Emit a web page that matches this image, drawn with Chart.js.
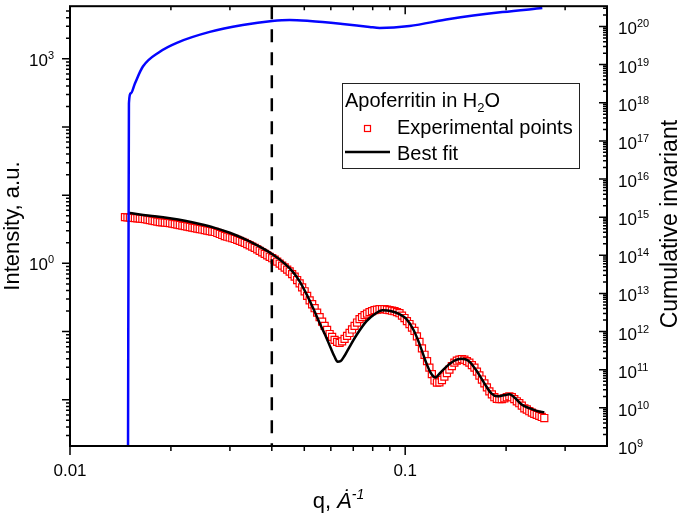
<!DOCTYPE html>
<html lang="en">
<head>
    <meta charset="UTF-8">
    <title>Apoferritin in H2O - SAXS curve</title>
    <script src="https://cdn.jsdelivr.net/npm/chart.js"></script>
    <style>
        * {
            margin: 0;
            padding: 0;
            box-sizing: border-box;
        }

        body {
            background: #ffffff;
            width: 685px;
            height: 522px;
            overflow: hidden;
        }

        canvas {
            display: block;
        }
    </style>
</head>

<body>
    <canvas id="chart" width="685" height="522"></canvas>

    <script>
        // experimental points (q in 1/A, intensity in a.u.)
        const qExp = [0.01459, 0.01484, 0.01509, 0.01535, 0.01562, 0.01589, 0.01616, 0.01644, 0.01673, 0.01702,
            0.01731, 0.01761, 0.01791, 0.01822, 0.01854, 0.01886, 0.01919, 0.01952, 0.01986, 0.02020,
            0.02055, 0.02091, 0.02127, 0.02164, 0.02201, 0.02239, 0.02278, 0.02317, 0.02357, 0.02398,
            0.02439, 0.02481, 0.02524, 0.02568, 0.02612, 0.02657, 0.02704, 0.02751, 0.02798, 0.02846,
            0.02896, 0.02946, 0.02997, 0.03049, 0.03101, 0.03155, 0.03209, 0.03265, 0.03321, 0.03378,
            0.03437, 0.03496, 0.03557, 0.03619, 0.03681, 0.03745, 0.03810, 0.03876, 0.03943, 0.04011,
            0.04080, 0.04151, 0.04222, 0.04295, 0.04370, 0.04446, 0.04522, 0.04600, 0.04680, 0.04761,
            0.04843, 0.04927, 0.05012, 0.05099, 0.05187, 0.05277, 0.05368, 0.05461, 0.05555, 0.05651,
            0.05749, 0.05848, 0.05950, 0.06053, 0.06157, 0.06264, 0.06372, 0.06482, 0.06594, 0.06708,
            0.06824, 0.06942, 0.07063, 0.07185, 0.07309, 0.07435, 0.07564, 0.07695, 0.07828, 0.07963,
            0.08101, 0.08241, 0.08384, 0.08529, 0.08676, 0.08826, 0.08979, 0.09134, 0.09292, 0.09453,
            0.09616, 0.09782, 0.09952, 0.1012, 0.1030, 0.1048, 0.1066, 0.1084, 0.1103, 0.1122,
            0.1142, 0.1162, 0.1181, 0.1201, 0.1223, 0.1244, 0.1265, 0.1287, 0.1309, 0.1332,
            0.1355, 0.1378, 0.1402, 0.1426, 0.1451, 0.1476, 0.1502, 0.1528, 0.1554, 0.1581,
            0.1609, 0.1637, 0.1665, 0.1694, 0.1723, 0.1753, 0.1783, 0.1814, 0.1845, 0.1877,
            0.1909, 0.1942, 0.1976, 0.2010, 0.2045, 0.2080, 0.2116, 0.2153, 0.2190, 0.2228,
            0.2267, 0.2306, 0.2346, 0.2387, 0.2427, 0.2469, 0.2512, 0.2555, 0.2600];
        const intensityExp = [4.76, 4.73, 4.68, 4.65, 4.61, 4.58, 4.53, 4.50, 4.46, 4.38,
            4.31, 4.24, 4.17, 4.10, 4.03, 4.00, 3.96, 3.92, 3.90, 3.83,
            3.77, 3.71, 3.65, 3.58, 3.53, 3.47, 3.41, 3.35, 3.30, 3.24,
            3.19, 3.14, 3.08, 3.03, 2.98, 2.93, 2.89, 2.79, 2.70, 2.61,
            2.52, 2.46, 2.40, 2.34, 2.28, 2.21, 2.14, 2.07, 2.00, 1.92,
            1.84, 1.76, 1.69, 1.61, 1.53, 1.45, 1.38, 1.315, 1.25, 1.19,
            1.13, 1.06, 0.99, 0.926, 0.87, 0.810, 0.76, 0.697, 0.64, 0.570,
            0.51, 0.444, 0.39, 0.334, 0.287, 0.2515, 0.220, 0.1893, 0.163, 0.1401,
            0.121, 0.1055, 0.092, 0.0835, 0.0755, 0.0706, 0.0683, 0.0718, 0.0781, 0.0863,
            0.0954, 0.1073, 0.121, 0.1356, 0.152, 0.1628, 0.174, 0.1831, 0.193, 0.1991,
            0.206, 0.2093, 0.213, 0.2128, 0.213, 0.2093, 0.206, 0.2024, 0.199, 0.1925,
            0.186, 0.1713, 0.158, 0.1425, 0.129, 0.1147, 0.102, 0.0849, 0.0706, 0.0568,
            0.0457, 0.0368, 0.0296, 0.0238, 0.0192, 0.0179, 0.0180, 0.0195, 0.0219, 0.0247,
            0.0277, 0.0311, 0.0350, 0.0374, 0.0387, 0.0394, 0.0387, 0.0368, 0.0350, 0.0322,
            0.0296, 0.0259, 0.0227, 0.0198, 0.0174, 0.0152, 0.0133, 0.0120, 0.0109, 0.0103,
            0.0102, 0.0102, 0.0105, 0.0109, 0.0112, 0.0109, 0.0102, 0.0095, 0.0089, 0.0082,
            0.0075, 0.0072, 0.0068, 0.0065, 0.0062, 0.0060, 0.0058, 0.0056, 0.0054];

        // best fit curve
        const qFit = [0.01489, 0.01616, 0.01791, 0.01986, 0.02201, 0.02439, 0.02704, 0.02997, 0.03276, 0.03631,
            0.03997, 0.04370, 0.04616, 0.04843, 0.05081, 0.05331, 0.05555, 0.05789, 0.05991, 0.06157,
            0.06285, 0.06416, 0.06594, 0.06824, 0.07160, 0.07668, 0.08101, 0.08558, 0.09103, 0.09616,
            0.1009, 0.1059, 0.1103, 0.1149, 0.1190, 0.1231, 0.1274, 0.1328, 0.1402, 0.1471,
            0.1544, 0.1631, 0.1723, 0.1807, 0.1884, 0.1963, 0.2045, 0.2131, 0.2220, 0.2346,
            0.2478, 0.2600];
        const intensityFit = [5.53, 5.21, 4.91, 4.58, 4.21, 3.78, 3.32, 2.81, 2.34, 1.82,
            1.383, 0.990, 0.758, 0.546, 0.351, 0.2128, 0.1332, 0.0863, 0.0578, 0.0428,
            0.0362, 0.0368, 0.0442, 0.0598, 0.0892, 0.1425, 0.1800, 0.2058, 0.1991, 0.1800,
            0.1524, 0.1055, 0.0661, 0.0374, 0.0251, 0.0212, 0.0251, 0.0306, 0.0374, 0.0400,
            0.0374, 0.0268, 0.0174, 0.01243, 0.01124, 0.01162, 0.01202, 0.01051, 0.00860, 0.00752,
            0.00681, 0.00658];

        // cumulative invariant (right axis)
        const qInv = [0.01489, 0.01499, 0.01519, 0.01562, 0.0165, 0.01854, 0.02083, 0.02612, 0.03276, 0.0401,
            0.0452, 0.0519, 0.065, 0.0783, 0.0839, 0.103, 0.1355, 0.195, 0.2565];
        const cumInvariant = [1e8, 9.7e17, 1.77e18, 3.2e18, 8.9e18, 2.18e19, 3.73e19, 7.2e19, 1.09e20, 1.39e20,
            1.48e20, 1.39e20, 1.16e20, 9.7e19, 9.15e19, 1.03e20, 1.57e20, 2.38e20, 3.03e20];

        // vertical marker and axis limits
        const cutoffQ = 0.04;
        const qRange = [0.01, 0.4];
        const intensityRange = [0.0021, 5900];
        const invariantRange = [1e9, 3.4e20];

        // tick labels
        const qTickLabels = [0.01, 0.1];
        const intensityTickExps = [3, 0];
        const invariantTickExps = [9, 10, 11, 12, 13, 14, 15, 16, 17, 18, 19, 20];

        const FONT = '"Liberation Sans", Arial, sans-serif';

        function points(xs, ys) {
            return xs.map((x, i) => ({ x: x, y: ys[i] }));
        }

        function powerLabel(ctx, x, y, exp, align) {
            ctx.font = '17px ' + FONT;
            const w1 = ctx.measureText('10').width;
            ctx.font = '11px ' + FONT;
            const w2 = ctx.measureText(String(exp)).width;
            const x0 = align === 'right' ? x - w1 - w2 : x;
            ctx.textAlign = 'left';
            ctx.textBaseline = 'alphabetic';
            ctx.font = '17px ' + FONT;
            ctx.fillText('10', x0, y);
            ctx.font = '11px ' + FONT;
            ctx.fillText(String(exp), x0 + w1, y - 7);
        }

        // log ticks m * 10^e, calls draw(pixel, isMajor)
        function logTicks(scale, lo, hi, draw) {
            for (let e = lo; e <= hi; e++) {
                for (let m = 1; m <= 9; m++) {
                    const v = m * Math.pow(10, e);
                    if (v < scale.min * 0.999 || v > scale.max * 0.999) continue;
                    draw(scale.getPixelForValue(v), m === 1);
                }
            }
        }

        const originAxes = {
            id: 'originAxes',
            afterDraw(chart) {
                const ctx = chart.ctx;
                const a = chart.chartArea;
                const s = chart.scales;
                ctx.save();
                ctx.strokeStyle = '#000';
                ctx.fillStyle = '#000';

                // tick marks
                ctx.lineWidth = 1.5;
                ctx.beginPath();
                logTicks(s.x, -2, -1, (p, major) => {
                    ctx.moveTo(p, a.bottom);
                    ctx.lineTo(p, a.bottom + (major ? 9 : 5));
                    ctx.moveTo(p, a.top);
                    ctx.lineTo(p, a.top + (major ? 8 : 4));
                });
                logTicks(s.y, -3, 3, (p, major) => {
                    ctx.moveTo(a.left, p);
                    ctx.lineTo(a.left - (major ? 8 : 4), p);
                });
                logTicks(s.y2, 9, 20, (p, major) => {
                    ctx.moveTo(a.right, p);
                    ctx.lineTo(a.right - (major ? 8 : 4), p);
                });
                ctx.stroke();

                // frame
                ctx.lineWidth = 2;
                ctx.strokeRect(a.left, a.top, a.right - a.left, a.bottom - a.top);

                // tick labels
                ctx.font = '17px ' + FONT;
                ctx.textAlign = 'center';
                ctx.textBaseline = 'alphabetic';
                qTickLabels.forEach(v => ctx.fillText(String(v), s.x.getPixelForValue(v), a.bottom + 30));
                intensityTickExps.forEach(e => powerLabel(ctx, a.left - 16, s.y.getPixelForValue(Math.pow(10, e)) + 7, e, 'right'));
                invariantTickExps.forEach(e => powerLabel(ctx, a.right + 11, s.y2.getPixelForValue(Math.pow(10, e)) + 8, e, 'left'));

                // axis titles
                const midY = (a.top + a.bottom) / 2;
                ctx.font = '22px ' + FONT;
                ctx.textAlign = 'center';
                ctx.save();
                ctx.translate(19, midY);
                ctx.rotate(-Math.PI / 2);
                ctx.fillText('Intensity, a.u.', 0, 0);
                ctx.restore();
                ctx.save();
                ctx.translate(677, midY - 2);
                ctx.rotate(-Math.PI / 2);
                ctx.font = '23px ' + FONT;
                ctx.fillText('Cumulative invariant', 0, 0);
                ctx.restore();

                // q, A^-1 with italic unit
                const parts = [['q, ', '22px ', 0], ['\u0226', 'italic 22px ', 0], ['-1', 'italic 14px ', -9]];
                let total = 0;
                parts.forEach(p => { ctx.font = p[1] + FONT; total += ctx.measureText(p[0]).width; });
                let x = (a.left + a.right) / 2 - total / 2;
                ctx.textAlign = 'left';
                parts.forEach(p => {
                    ctx.font = p[1] + FONT;
                    ctx.fillText(p[0], x, a.bottom + 62 + p[2]);
                    x += ctx.measureText(p[0]).width;
                });

                // legend box
                const lx = 342, ly = 83;
                ctx.fillStyle = '#fff';
                ctx.fillRect(lx, ly, 237, 85);
                ctx.lineWidth = 1;
                ctx.strokeStyle = '#222';
                ctx.strokeRect(lx + 0.5, ly + 0.5, 237, 85);
                ctx.fillStyle = '#000';
                ctx.font = '20px ' + FONT;
                let tx = lx + 3;
                ctx.fillText('Apoferritin in H', tx, ly + 24);
                tx += ctx.measureText('Apoferritin in H').width;
                ctx.font = '13px ' + FONT;
                ctx.fillText('2', tx, ly + 29);
                tx += ctx.measureText('2').width;
                ctx.font = '20px ' + FONT;
                ctx.fillText('O', tx, ly + 24);

                ctx.fillText('Experimental points', lx + 55, ly + 51);
                ctx.fillText('Best fit', lx + 55, ly + 77);
                ctx.strokeStyle = '#ff0000';
                ctx.lineWidth = 1.2;
                ctx.strokeRect(lx + 22.5, ly + 42.5, 6, 6);
                ctx.strokeStyle = '#000';
                ctx.lineWidth = 2.5;
                ctx.beginPath();
                ctx.moveTo(lx + 3, ly + 69);
                ctx.lineTo(lx + 48, ly + 69);
                ctx.stroke();

                ctx.restore();
            }
        };

        const ctx = document.getElementById('chart').getContext('2d');
        new Chart(ctx, {
            type: 'scatter',
            data: {
                datasets: [{
                    label: 'Cumulative invariant',
                    data: points(qInv, cumInvariant),
                    yAxisID: 'y2',
                    showLine: true,
                    borderColor: '#0505ff',
                    borderWidth: 2.5,
                    pointRadius: 0,
                    cubicInterpolationMode: 'monotone',
                    order: 0
                }, {
                    label: 'Best fit',
                    data: points(qFit, intensityFit),
                    yAxisID: 'y',
                    showLine: true,
                    borderColor: '#000000',
                    borderWidth: 2.5,
                    pointRadius: 0,
                    cubicInterpolationMode: 'monotone',
                    order: 1
                }, {
                    label: 'cutoff',
                    data: [{ x: cutoffQ, y: intensityRange[1] }, { x: cutoffQ, y: intensityRange[0] }],
                    yAxisID: 'y',
                    showLine: true,
                    borderColor: '#000000',
                    borderWidth: 2.5,
                    borderDash: [13, 10],
                    pointRadius: 0,
                    order: 2
                }, {
                    label: 'Experimental points',
                    data: points(qExp, intensityExp),
                    yAxisID: 'y',
                    pointStyle: 'rect',
                    pointRadius: 5,
                    borderWidth: 1.2,
                    borderColor: '#ff0000',
                    backgroundColor: '#ffffff',
                    order: 3
                }]
            },
            options: {
                responsive: false,
                animation: false,
                layout: {
                    padding: { left: 70, top: 2, right: 78, bottom: 76 }
                },
                plugins: {
                    legend: { display: false },
                    tooltip: { enabled: false }
                },
                scales: {
                    x: { type: 'logarithmic', min: qRange[0], max: qRange[1], display: false },
                    y: { type: 'logarithmic', min: intensityRange[0], max: intensityRange[1], display: false },
                    y2: { type: 'logarithmic', position: 'right', min: invariantRange[0], max: invariantRange[1], display: false }
                }
            },
            plugins: [originAxes]
        });
    </script>
</body>
</html>
